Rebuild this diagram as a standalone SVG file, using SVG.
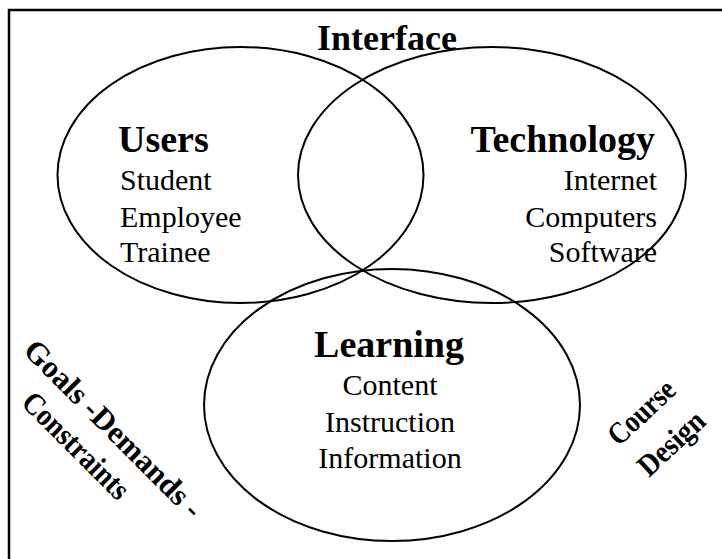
<svg xmlns="http://www.w3.org/2000/svg" width="722" height="559" viewBox="0 0 722 559">
<style>
.ring{fill:none;stroke:#000;stroke-width:2}
.title{font-family:"Liberation Serif","Times New Roman",serif;font-weight:bold;font-size:38px;fill:#000}
.item{font-family:"Liberation Serif","Times New Roman",serif;font-size:30px;fill:#000}
.side{font-family:"Liberation Serif","Times New Roman",serif;font-weight:bold;font-size:31px;fill:#000}
</style>
<rect width="722" height="559" fill="#fff"/>
<rect x="9" y="10" width="730" height="570" fill="none" stroke="#000" stroke-width="2.5"/>
<g id="connectors"></g>
<text id="interface" class="title" x="387" y="50" text-anchor="middle" style="font-size:36px">Interface</text>
<g id="users">
<ellipse class="ring" cx="240.5" cy="175" rx="183" ry="128"/>
<text class="title" x="118" y="152">Users</text>
<text class="item" x="120" y="190">Student</text>
<text class="item" x="120" y="227">Employee</text>
<text class="item" x="120" y="262">Trainee</text>
</g>
<g id="technology">
<ellipse class="ring" cx="492" cy="175" rx="194" ry="128"/>
<text class="title" x="655" y="152" text-anchor="end">Technology</text>
<text class="item" x="657" y="190" text-anchor="end">Internet</text>
<text class="item" x="657" y="227" text-anchor="end">Computers</text>
<text class="item" x="657" y="262" text-anchor="end">Software</text>
</g>
<g id="learning">
<ellipse class="ring" cx="392" cy="405" rx="188" ry="136"/>
<text class="title" x="389" y="357" text-anchor="middle">Learning</text>
<text class="item" x="390" y="395" text-anchor="middle">Content</text>
<text class="item" x="390" y="432" text-anchor="middle">Instruction</text>
<text class="item" x="390" y="468" text-anchor="middle">Information</text>
</g>
<g id="goals">
<text class="side" transform="translate(22,352) rotate(45)" textLength="238" lengthAdjust="spacingAndGlyphs">Goals -Demands -</text>
<text class="side" transform="translate(20,404) rotate(45)" textLength="138" lengthAdjust="spacingAndGlyphs">Constraints</text>
</g>
<g id="course-design">
<text class="side" transform="translate(619,447) rotate(-43)" textLength="80" lengthAdjust="spacingAndGlyphs">Course</text>
<text class="side" transform="translate(649,478) rotate(-43)" textLength="80" lengthAdjust="spacingAndGlyphs">Design</text>
</g>
</svg>
